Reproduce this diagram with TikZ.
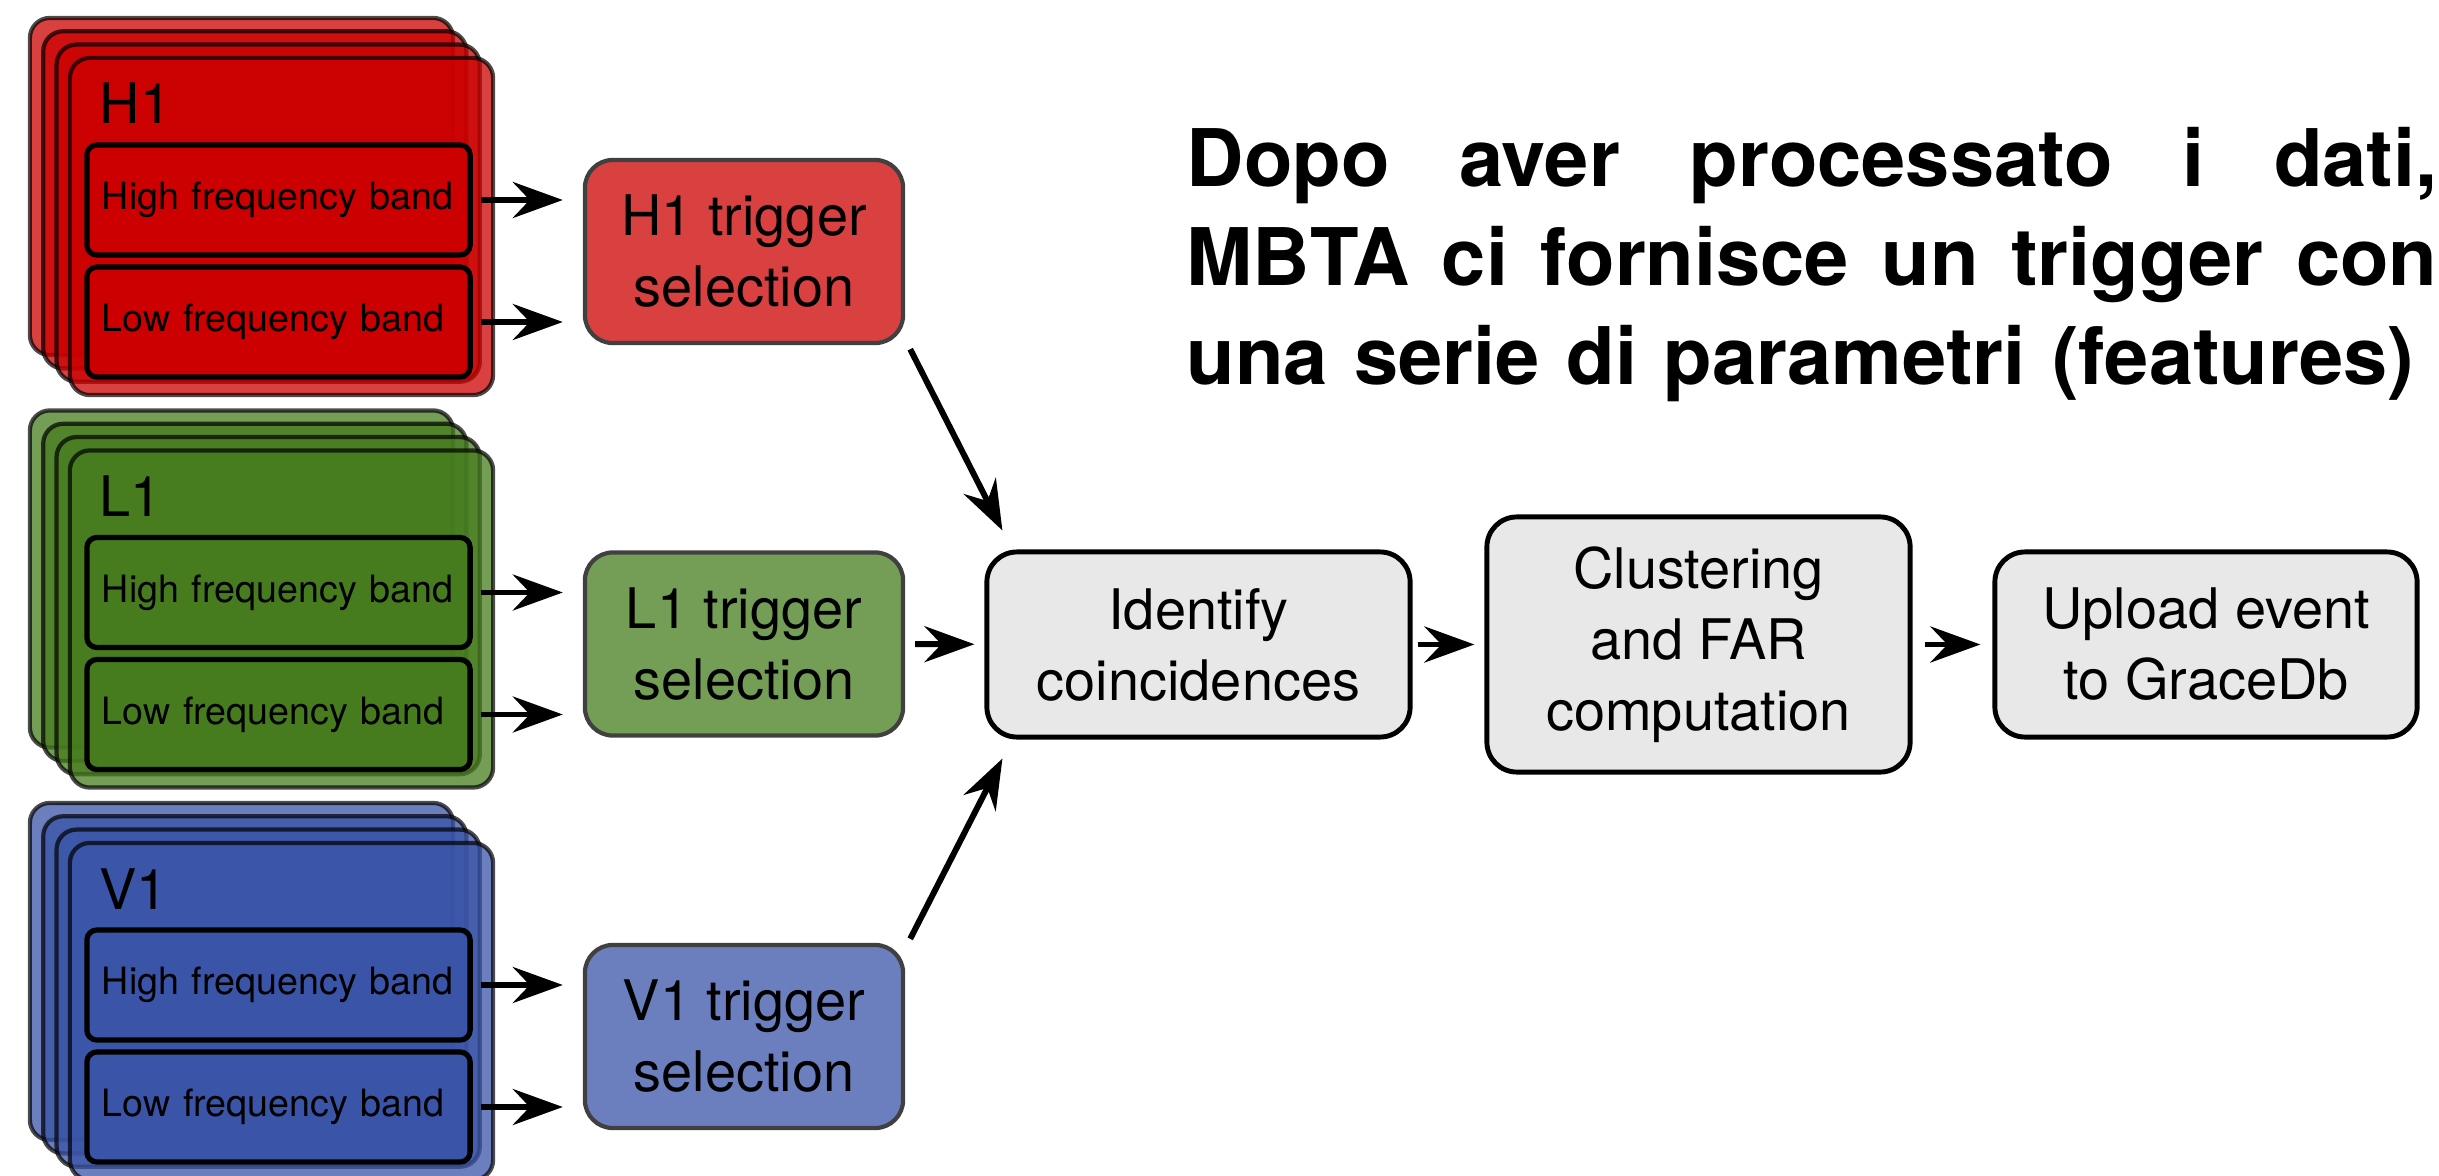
\documentclass[tikz,border=0pt]{standalone}
\usepackage{fontspec}
\setmainfont{TeX Gyre Heros}
\usetikzlibrary{arrows.meta}

\definecolor{h1red}{RGB}{204,0,0}
\definecolor{l1green}{RGB}{70,124,30}
\definecolor{v1blue}{RGB}{58,84,168}
\definecolor{procgray}{RGB}{232,232,232}

\begin{document}
\begin{tikzpicture}
        [
            x=0.01cm,
            y=-0.01cm,
            card/.style={draw=black, draw opacity=0.7, fill opacity=0.75, line width=1.2pt, rounded corners=0.2cm, minimum width=4.23cm, minimum height=3.37cm, inner sep=0pt},
            band/.style={draw=black, line width=1.5pt, rounded corners=0.1cm, minimum height=1.1cm, text width=3.53cm, inner xsep=0.15cm, align=left, font=\fontsize{10.7}{12.8}\selectfont},
            lbl/.style={inner sep=0pt, font=\fontsize{15.9}{19}\selectfont},
            trig/.style={draw=black!75, line width=1.2pt, rounded corners=0.28cm, minimum width=3.18cm, minimum height=1.83cm, align=center, font=\fontsize{15.9}{20.2}\selectfont},
            proc/.style={draw=black, fill=procgray, line width=1.4pt, rounded corners=0.3cm, minimum width=4.23cm, minimum height=1.85cm, align=center, font=\fontsize{15.9}{20.2}\selectfont},
            flow/.style={-{Stealth[length=0.5cm, width=0.36cm, inset=0.17cm]}, line width=1.7pt},
            title/.style={inner sep=0pt, text width=12.5cm, align=left, font=\bfseries\fontsize{22.6}{28.1}\selectfont}
        ]
        \useasboundingbox (0,0) rectangle (2439,1176);

        \foreach \dn/\col/\y in {H1/h1red/0, L1/l1green/392.5, V1/v1blue/785}
        {
            \foreach \k in {0,...,3}
                \node[card, fill=\col] (\dn card\k) at ({241.5+13.33*\k}, {186.5+13.33*\k+\y}) {};
            \node[lbl, anchor=base west] (\dn lab) at (99, 124+\y) {\dn};
            \node[band, fill=\col] (\dn hi) at (278.5, 200+\y) {High frequency band};
            \node[band, fill=\col] (\dn lo) at (278.5, 322+\y) {Low frequency band};
            \node[trig, fill=\col!75!white] (\dn trig) at (744, 251.5+\y) {\dn{} trigger\\selection};
            \draw[flow, shorten <=0.08cm, shorten >=0.2cm] (\dn hi) -- (\dn trig.west |- \dn hi);
            \draw[flow, shorten <=0.08cm, shorten >=0.2cm] (\dn lo) -- (\dn trig.west |- \dn lo);
        }

        \node[proc] (ident) at (1198.5, 644.5) {Identify\\coincidences};
        \node[proc, minimum height=2.55cm] (clust) at (1698.5, 644.5) {Clustering\\and FAR\\computation};
        \node[proc, minimum width=4.22cm] (upload) at (2206, 644.5) {Upload event\\to GraceDb};

        \draw[flow] ([shift={(5,4)}]H1trig.south east) -- ([shift={(18,-19)}]ident.north west);
        \draw[flow, shorten <=0.1cm, shorten >=0.1cm] (L1trig) -- (ident);
        \draw[flow] ([shift={(5,-4)}]V1trig.north east) -- ([shift={(18,19)}]ident.south west);
        \draw[flow, shorten <=0.05cm, shorten >=0.1cm] (ident) -- (clust);
        \draw[flow, shorten <=0.12cm, shorten >=0.12cm] (clust) -- (upload);

        \node[title, anchor=north west] (msg) at (1186, 127)
            {\makebox[12.5cm][l]{Dopo\hfill aver\hfill processato\hfill i\hfill dati,}\\\makebox[12.5cm][l]{MBTA\hfill ci\hfill fornisce\hfill un\hfill trigger\hfill con}\\una serie di parametri (features)};

    \end{tikzpicture}
\end{document}
